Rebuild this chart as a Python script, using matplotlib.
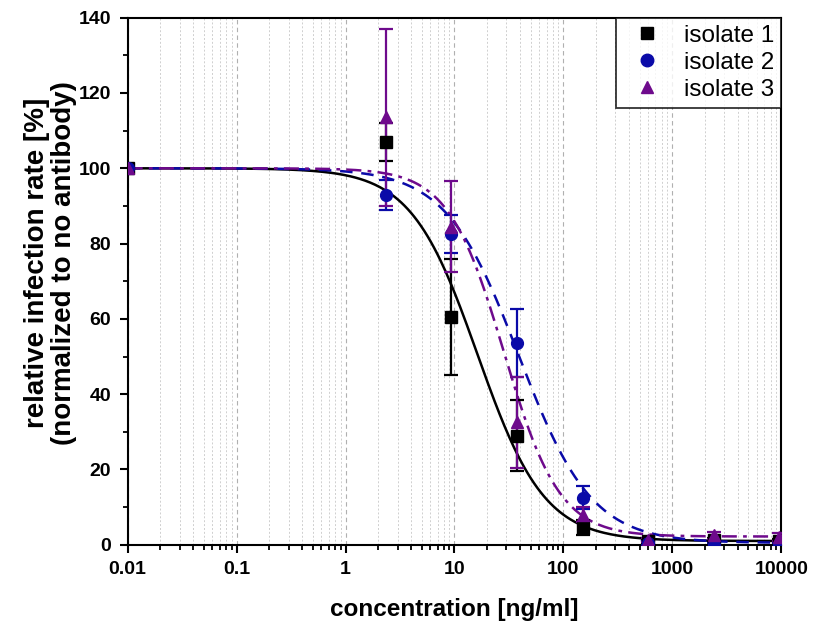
import numpy as np
import matplotlib.pyplot as plt
from matplotlib.ticker import FixedLocator, FixedFormatter, LogLocator, NullFormatter, MultipleLocator

plt.rcParams['font.family'] = ['Liberation Sans', 'DejaVu Sans']

# measured points (4-fold dilutions, 0.01 stands for "no antibody")
conc = [0.01, 2.34, 9.375, 37.5, 150, 600, 2400, 9600]
iso1 = [100, 107, 60.5, 29, 4.5, 1, 1.2, 1]
iso2 = [100, 93, 82.5, 53.5, 12.5, 0.5, 0, 0]
iso3 = [100, 113.5, 84.5, 32.5, 8, 1.2, 2.5, 2]
err1 = [0, 5, 15.5, 9.5, 2, 0.5, 0.5, 0.5]
err2 = [0, 4, 5, 9, 3, 0.5, 0.5, 0.5]
err3 = [0, 23.5, 12, 12, 2, 0.5, 1, 1]

# logistic fit parameters: top, bottom, IC50, hill
fit1 = [100, 1.0, 16.3, 1.42]
fit2 = [100, 0.5, 39.0, 1.3]
fit3 = [100, 2.2, 28.5, 1.7]

labels = ['isolate 1', 'isolate 2', 'isolate 3']
colors = ['black', '#0A0AA8', '#6E0A8C']
markers = ['s', 'o', '^']
xtick_labels = ['0.01', '0.1', '1', '10', '100', '1000', '10000']


def logistic(x, p):
    top, bottom, c, h = p
    return bottom + (top - bottom) / (1 + (x / c) ** h)


fig = plt.figure(figsize=(8.13, 6.32), dpi=100)
ax = fig.add_axes([0.157, 0.138, 0.804, 0.834])

xx = np.logspace(-2, 4, 400)
ax.plot(xx, logistic(xx, fit1), color=colors[0], lw=1.8, ls='-', zorder=3)
ax.plot(xx, logistic(xx, fit2), color=colors[1], lw=1.8, ls=(0, (5, 3.5)), zorder=3)
ax.plot(xx, logistic(xx, fit3), color=colors[2], lw=1.8, ls=(0, (6, 2.5, 1.5, 2.5)), zorder=3)

for y, e, lab, col, m in zip([iso1, iso2, iso3], [err1, err2, err3], labels, colors, markers):
    ax.errorbar(conc, y, yerr=e, fmt=m, color=col, ms=8.5, capsize=5, elinewidth=1.6,
                capthick=1.6, label=lab, zorder=4)

ax.set_xscale('log')
ax.set_xlim(0.01, 10000)
ax.set_ylim(0, 140)

ax.xaxis.set_major_locator(FixedLocator([0.01, 0.1, 1, 10, 100, 1000, 10000]))
ax.xaxis.set_major_formatter(FixedFormatter(xtick_labels))
ax.xaxis.set_minor_locator(LogLocator(base=10, subs=np.arange(2, 10)))
ax.xaxis.set_minor_formatter(NullFormatter())
ax.yaxis.set_major_locator(MultipleLocator(20))
ax.yaxis.set_minor_locator(MultipleLocator(10))

ax.grid(which='major', axis='x', color='#b0b0b0', ls=(0, (4, 3)), lw=0.8)
ax.grid(which='minor', axis='x', color='#cfcfcf', ls=(0, (2, 2)), lw=0.7)
ax.set_axisbelow(True)

ax.tick_params(which='major', direction='out', length=6, width=1.5, labelsize=14, pad=6)
ax.tick_params(which='minor', direction='out', length=3.5, width=1.3)
for t in ax.get_xticklabels() + ax.get_yticklabels():
    t.set_fontweight('bold')
for s in ax.spines.values():
    s.set_linewidth(1.5)

ax.set_xlabel('concentration [ng/ml]', fontsize=17.5, fontweight='bold', labelpad=14)
ax.set_ylabel('relative infection rate [%]\n(normalized to no antibody)', fontsize=20,
              fontweight='bold', linespacing=1.05)
ax.yaxis.set_label_coords(-0.078, 0.535)

handles = [plt.Line2D([], [], ls='none', marker=m, color=c, ms=9) for m, c in zip(markers, colors)]
leg = ax.legend(handles, labels, loc='upper right', fontsize=17.5, frameon=True, fancybox=False,
                borderaxespad=0, handletextpad=0.5, borderpad=0.3, labelspacing=0.2,
                handlelength=2.0)
leg.get_frame().set_edgecolor('black')
leg.get_frame().set_linewidth(1.3)

plt.savefig('out.png', dpi=100)
